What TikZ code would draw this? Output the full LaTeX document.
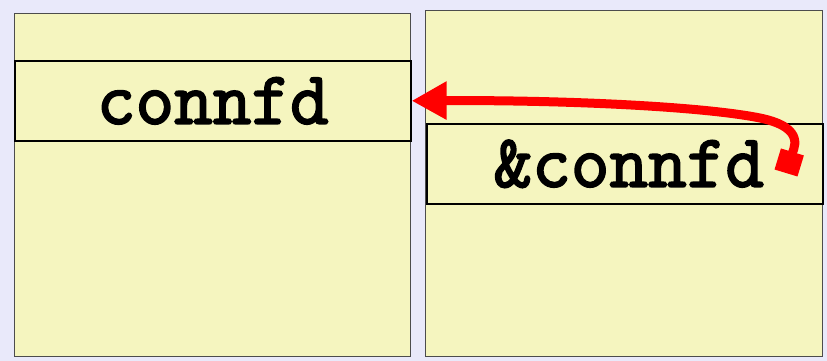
\documentclass[tikz,border=0pt]{standalone}
\usepackage{fontspec}
\newfontfamily\slotfont{Latin Modern Mono}[FakeBold=2.5]
\usetikzlibrary{arrows.meta, positioning}
\definecolor{bgLav}{HTML}{E9E9FA}
\definecolor{panelYel}{HTML}{F5F5BF}
\definecolor{ptrRed}{HTML}{FF0000}
\tikzset{
  panel/.style   = {draw=black!70, line width=0.8pt, fill=panelYel, anchor=north west,
                    inner sep=0pt},
  slot/.style    = {draw=black, line width=1.6pt, fill=panelYel, anchor=north west,
                    inner sep=0pt, minimum height=80pt,
                    font=\fontsize{75}{77}\selectfont\slotfont},
  ptr/.style     = {ptrRed, line width=9pt,
                    {Square[length=22pt,width=24pt]}-{Triangle[length=35pt,width=36pt]}},
}

\begin{document}
\begin{tikzpicture}[x=1pt, y=-1pt]
  \fill[bgLav] (0,0) rectangle (827,361);
  \useasboundingbox (0,0) rectangle (827,361);
  % two frames
  \node[panel, minimum width=396pt, minimum height=343pt] (lframe) at (14,13) {};
  \node[panel, minimum width=397pt, minimum height=346pt] (rframe) at (425,10) {};
  % variable and its address
  \node[slot, minimum width=396pt] (lslot) at (14,60) {connfd};
  \node[slot, minimum width=396pt] (rslot) at (426,123) {\hspace{8pt}\&connfd};
  % pointer
  \coordinate (rtail) at (786,173);
  \draw[ptr] (rtail) .. controls (793,150) and (808,128) .. (760,118)
             .. controls (700,106) and (560,100) .. (lslot.east);
\end{tikzpicture}
\end{document}
